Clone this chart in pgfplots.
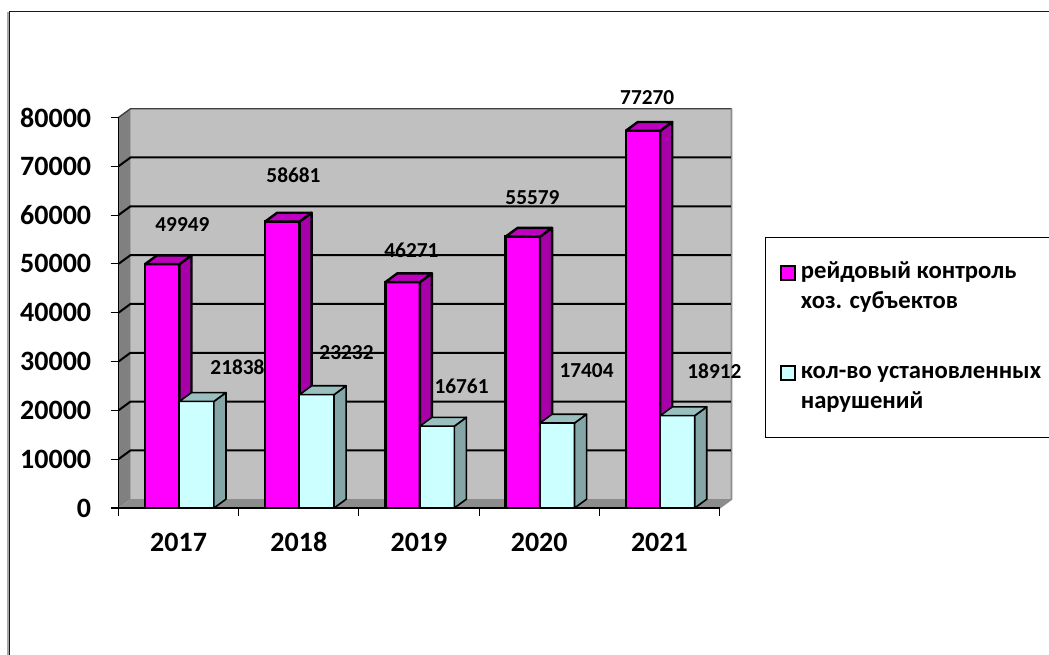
\documentclass[border=0pt]{standalone}
\usepackage{fontspec}
\setmainfont{Carlito}
\usepackage{pgfplots}
\pgfplotsset{compat=1.18}

\definecolor{wallback}{HTML}{C0C0C0}
\definecolor{wallside}{HTML}{808080}
\definecolor{wallfloor}{HTML}{8C8C8C}
\definecolor{magfront}{HTML}{FF00FF}
\definecolor{magside}{HTML}{A800A8}
\definecolor{magtop}{HTML}{C000C0}
\definecolor{cyanfront}{HTML}{CCFFFF}
\definecolor{cyanside}{HTML}{85A6A6}
\definecolor{cyantop}{HTML}{99BFBF}

% depth of the fake 3d, in axis units: 12px and 9px
\def\dx{0.1}
\def\dy{1800}
\def\bw{0.287}

% side and top of one bar: left x, value, side colour, top colour, line width
\newcommand{\barfaces}[5]{%
  \pgfmathsetmacro\xa{#1}%
  \pgfmathsetmacro\xb{#1+\bw}%
  \pgfmathsetmacro\xc{#1+\bw+\dx}%
  \pgfmathsetmacro\xd{#1+\dx}%
  \edef\yt{\the\numexpr#2+\dy\relax}%
  \addplot[forget plot,fill=#3,draw=black,line width=#5,line join=round]
    coordinates {(\xb,0) (\xc,\dy) (\xc,\yt) (\xb,#2) (\xb,0)};
  \addplot[forget plot,fill=#4,draw=black,line width=#5,line join=round]
    coordinates {(\xa,#2) (\xd,\yt) (\xc,\yt) (\xb,#2) (\xa,#2)};
}
% one line on the back wall and its slant on the left wall
\newcommand{\wallline}[1]{%
  \edef\yt{\the\numexpr#1+\dy\relax}%
  \addplot[forget plot,black,line width=1.5pt] coordinates {(0,#1) (\dx,\yt) (5.095,\yt)};
}
\newcommand{\lab}[3]{\node[font=\bfseries\fontsize{16}{16}\selectfont] at (axis cs:#1,#2) {#3};}

\begin{document}
\begin{tikzpicture}[x=0.75pt,y=0.75pt]
\useasboundingbox (0,0) rectangle (1049,655);
% outer frame of the sheet, open at right and bottom
\draw[gray!70,line width=1pt] (8,0) -- (8,643);
\draw[black!90,line width=1.1pt] (9.5,0) -- (9.5,643.5) -- (1049,643.5);
\begin{axis}[
    at={(88.875pt,110.25pt)},anchor=south west,
    scale only axis,width=450.75pt,height=292.9pt,
    xmin=0,xmax=5,ymin=0,ymax=80000,
    clip=false,axis on top,
    axis lines=left,axis line style={-,black,line width=1pt},
    xtick={0,1,2,3,4,5},xticklabels={},
    extra x ticks={0.5,1.5,2.5,3.5,4.5},
    extra x tick labels={2017,2018,2019,2020,2021},
    extra x tick style={major tick length=0pt},
    ytick={0,10000,20000,30000,40000,50000,60000,70000,80000},
    scaled y ticks=false,
    tick align=outside,tick pos=left,major tick length=6pt,
    tick style={black,line width=0.8pt},
    /pgf/number format/assume math mode=true,
    /pgf/number format/1000 sep={},
    tick label style={font=\bfseries\fontsize{21}{21}\selectfont},
    yticklabel style={xshift=-11pt},
    xticklabel style={anchor=base,yshift=-33pt},
    legend style={at={(1.0757,0.694)},anchor=north west,draw=black,line width=0.8pt,
      inner xsep=11pt,inner ysep=13pt,row sep=26pt,
      nodes={text depth=},cells={anchor=base west},
      font=\bfseries\fontsize{18.5}{22.5}\selectfont},
]
% walls
\addplot[forget plot,fill=wallback,draw=none]
  coordinates {(\dx,\dy) (\dx,81800) (5.1,81800) (5.1,\dy) (\dx,\dy)};
\addplot[forget plot,fill=wallside,draw=none]
  coordinates {(0,0) (0,80000) (\dx,81800) (\dx,\dy) (0,0)};
\addplot[forget plot,fill=wallfloor,draw=none]
  coordinates {(0,0) (\dx,\dy) (5.1,\dy) (5,0) (0,0)};
\addplot[forget plot,black!75,line width=1pt] coordinates {(0,80000) (\dx,81800) (5.1,81800)};
\addplot[forget plot,black!45,line width=1.2pt] coordinates {(5.1,81800) (5.1,\dy) (5,0)};
\wallline{10000}\wallline{20000}\wallline{30000}\wallline{40000}
\wallline{50000}\wallline{60000}\wallline{70000}

% magenta series
\addplot[ybar,bar width=0.287,bar shift=-0.1435,fill=magfront,draw=black,line width=1.8pt,
  legend image code/.code={\draw[fill=magfront,draw=black,line width=1.5pt] (0pt,-1pt) rectangle (10pt,9pt);}]
  coordinates {(0.507,49949) (1.507,58681) (2.507,46271) (3.507,55579) (4.507,77270)};
\addlegendentry{\begin{tabular}[t]{@{\hspace{2pt}}p{192pt}@{}}рейдовый контроль\\хоз. субъектов\end{tabular}}
\barfaces{0.2200}{49949}{magside}{magtop}{1.8pt}
\barfaces{1.2200}{58681}{magside}{magtop}{1.8pt}
\barfaces{2.2200}{46271}{magside}{magtop}{1.8pt}
\barfaces{3.2200}{55579}{magside}{magtop}{1.8pt}
\barfaces{4.2200}{77270}{magside}{magtop}{1.8pt}

% cyan series
\addplot[ybar,bar width=0.287,bar shift=0.1435,fill=cyanfront,draw=black,line width=1.2pt,
  legend image code/.code={\draw[fill=cyanfront,draw=black,line width=1.5pt] (0pt,-1pt) rectangle (10pt,9pt);}]
  coordinates {(0.507,21838) (1.507,23232) (2.507,16761) (3.507,17404) (4.507,18912)};
\addlegendentry{\begin{tabular}[t]{@{\hspace{2pt}}p{192pt}@{}}кол-во установленных\\нарушений\end{tabular}}
\barfaces{0.5070}{21838}{cyanside}{cyantop}{1.2pt}
\barfaces{1.5070}{23232}{cyanside}{cyantop}{1.2pt}
\barfaces{2.5070}{16761}{cyanside}{cyantop}{1.2pt}
\barfaces{3.5070}{17404}{cyanside}{cyantop}{1.2pt}
\barfaces{4.5070}{18912}{cyanside}{cyantop}{1.2pt}

% value labels sit where the original put them, off the bars
\lab{0.532}{57992}{49949}
\lab{1.456}{68156}{58681}
\lab{2.437}{52869}{46271}
\lab{3.444}{63525}{55579}
\lab{4.399}{84016}{77270}
\lab{0.990}{28893}{21838}
\lab{1.897}{31762}{23232}
\lab{2.854}{25000}{16761}
\lab{3.894}{28074}{17404}
\lab{4.958}{28074}{18912}
\end{axis}
\end{tikzpicture}
\end{document}
